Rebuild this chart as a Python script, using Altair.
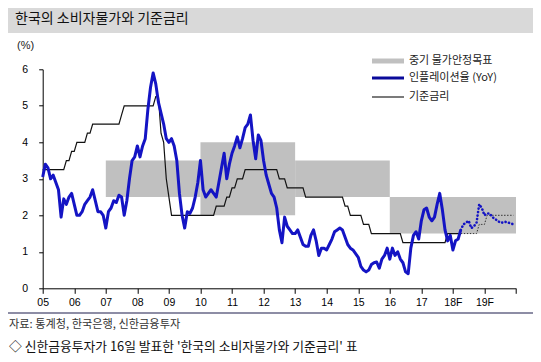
import altair as alt
import pandas as pd

# ---------------- data ----------------
tick_years = list(range(2005, 2021))
tick_labels = ["05", "06", "07", "08", "09", "10", "11", "12", "13", "14",
               "15", "16", "17", "18F", "19F", ""]

target_start = [2007, 2010, 2013, 2016]
target_end = [2010, 2013, 2016, 2020]
target_low = [2.5, 2.0, 2.5, 1.5]
target_high = [3.5, 4.0, 3.5, 2.5]

# CPI YoY (%), monthly from 2005-01 to 2018-04
cpi_actual = [
    3.05, 3.4, 3.3, 3.0, 3.1, 2.9, 2.7, 1.95, 2.45, 2.3, 2.5, 2.6,
    2.3, 2.0, 2.0, 2.1, 2.3, 2.4, 2.5, 2.7, 2.4, 2.1, 2.1, 2.0,
    1.65, 2.1, 2.2, 2.4, 2.35, 2.55, 2.5, 2.0, 2.4, 3.0, 3.5, 3.6,
    3.9, 3.6, 3.9, 4.1, 4.9, 5.5, 5.9, 5.6, 5.1, 4.8, 4.5, 4.1,
    4.0, 4.1, 3.9, 3.5, 2.6, 2.0, 1.65, 2.1, 2.05, 2.2, 2.5, 2.9,
    3.5, 2.7, 2.5, 2.6, 2.7, 2.6, 2.5, 2.9, 3.3, 3.7, 3.0, 3.4,
    3.7, 3.9, 4.15, 3.85, 4.1, 4.4, 4.5, 4.75, 4.05, 3.55, 4.2, 4.05,
    3.5, 3.1, 2.85, 2.6, 2.5, 2.2, 1.6, 1.25, 1.95, 1.7, 1.6, 1.5,
    1.5, 1.6, 1.4, 1.2, 1.15, 1.15, 1.45, 1.6, 1.3, 0.9, 1.1, 1.1,
    1.05, 1.2, 1.35, 1.55, 1.6, 1.65, 1.6, 1.4, 1.2, 1.1, 1.05, 0.95,
    0.85, 0.6, 0.5, 0.45, 0.5, 0.65, 0.7, 0.72, 0.55, 0.8, 0.9, 1.1,
    0.8, 1.1, 0.9, 1.0, 0.8, 0.7, 0.45, 0.4, 1.1, 1.45, 1.55, 1.35,
    1.85, 2.15, 2.2, 1.95, 1.85, 1.95, 2.3, 2.6, 2.15, 1.6, 1.3, 1.45,
    1.05, 1.3, 1.35, 1.6,
]
# CPI forecast, monthly from 2018-04 to 2019-12
cpi_forecast = [
    1.6, 1.75, 1.8, 1.85, 1.65, 1.7, 1.8, 2.3, 2.2,
    2.0, 2.05, 2.05, 1.95, 1.9, 1.85, 1.8, 1.8, 1.82, 1.8, 1.78, 1.75,
]
# Base rate (%), monthly from 2005-01 to 2018-04
base_actual = [
    3.25, 3.25, 3.25, 3.25, 3.25, 3.25, 3.25, 3.25, 3.25, 3.5, 3.5, 3.75,
    3.75, 4.0, 4.0, 4.0, 4.0, 4.25, 4.25, 4.5, 4.5, 4.5, 4.5, 4.5,
    4.5, 4.5, 4.5, 4.5, 4.5, 4.5, 4.75, 5.0, 5.0, 5.0, 5.0, 5.0,
    5.0, 5.0, 5.0, 5.0, 5.0, 5.0, 5.0, 5.25, 5.25, 4.25, 4.0, 3.0,
    2.5, 2.0, 2.0, 2.0, 2.0, 2.0, 2.0, 2.0, 2.0, 2.0, 2.0, 2.0,
    2.0, 2.0, 2.0, 2.0, 2.0, 2.0, 2.25, 2.25, 2.25, 2.25, 2.5, 2.5,
    2.75, 2.75, 3.0, 3.0, 3.0, 3.25, 3.25, 3.25, 3.25, 3.25, 3.25, 3.25,
    3.25, 3.25, 3.25, 3.25, 3.25, 3.25, 3.0, 3.0, 3.0, 2.75, 2.75, 2.75,
    2.75, 2.75, 2.75, 2.75, 2.5, 2.5, 2.5, 2.5, 2.5, 2.5, 2.5, 2.5,
    2.5, 2.5, 2.5, 2.5, 2.5, 2.5, 2.5, 2.25, 2.25, 2.0, 2.0, 2.0,
    2.0, 2.0, 1.75, 1.75, 1.75, 1.5, 1.5, 1.5, 1.5, 1.5, 1.5, 1.5,
    1.5, 1.5, 1.5, 1.5, 1.5, 1.25, 1.25, 1.25, 1.25, 1.25, 1.25, 1.25,
    1.25, 1.25, 1.25, 1.25, 1.25, 1.25, 1.25, 1.25, 1.25, 1.25, 1.5, 1.5,
    1.5, 1.5, 1.5, 1.5,
]
# Base rate forecast, monthly from 2018-04 to 2019-12
base_forecast = [
    1.5, 1.5, 1.5, 1.5, 1.5, 1.5, 1.5, 1.75, 1.75,
    1.75, 2.0, 2.0, 2.0, 2.0, 2.0, 2.0, 2.0, 2.0, 2.0, 2.0, 2.0,
]

title_text = "한국의 소비자물가와 기준금리"
unit_text = "(%)"
legend_labels = ["중기 물가안정목표", "인플레이션율 (YoY)", "기준금리"]
source_text = "자료: 통계청, 한국은행, 신한금융투자"
caption_text = "◇ 신한금융투자가 16일 발표한 '한국의 소비자물가와 기준금리' 표"

BLUE = "#1414c4"
GRAY = "#c0c0c0"
KFONT = "Noto Sans CJK KR"


def monthly(values, start):
    return pd.DataFrame({"t": [start + i / 12 for i in range(len(values))],
                         "v": values})


df_cpi = monthly(cpi_actual, 2005.0)
df_cpi_f = monthly(cpi_forecast, 2018.25)
df_base = monthly(base_actual, 2005.0)
df_base_f = monthly(base_forecast, 2018.25)
df_target = pd.DataFrame({"s": target_start, "e": target_end,
                          "lo": target_low, "hi": target_high})

label_expr = "[" + ",".join("'%s'" % s for s in tick_labels) + "][round(datum.value) - 2005]"

x_scale = alt.Scale(domain=[2005, 2020], nice=False, zero=False)
y_scale = alt.Scale(domain=[0, 6], nice=False)
x_axis = alt.Axis(values=tick_years, labelExpr=label_expr, title=None,
                  tickSize=5, labelPadding=4, grid=False,
                  labelOverlap=False, labelFlush=False)
y_axis = alt.Axis(values=list(range(0, 7)), title=None, tickSize=4,
                  labelPadding=11, grid=False,
                  labelOverlap=False, labelFlush=False)


def xq(field):
    return alt.X(field, scale=x_scale, axis=x_axis)


def yq(field):
    return alt.Y(field, scale=y_scale, axis=y_axis)


boxes = alt.Chart(df_target).mark_rect(color=GRAY).encode(
    x=xq("s:Q"), x2="e:Q", y=yq("lo:Q"), y2="hi:Q")

base_line = alt.Chart(df_base).mark_line(color="#111111", strokeWidth=1.2).encode(
    x=xq("t:Q"), y=yq("v:Q"))
base_f_line = alt.Chart(df_base_f).mark_line(
    color="#333333", strokeWidth=1, strokeDash=[1.5, 1.5]).encode(
    x=xq("t:Q"), y=yq("v:Q"))
cpi_f_line = alt.Chart(df_cpi_f).mark_line(
    color=BLUE, strokeWidth=2.6, strokeDash=[0.1, 3.4], strokeCap="round").encode(
    x=xq("t:Q"), y=yq("v:Q"))
cpi_line = alt.Chart(df_cpi).mark_line(
    color=BLUE, strokeWidth=3, strokeJoin="round").encode(
    x=xq("t:Q"), y=yq("v:Q"))

one = pd.DataFrame({"a": [0]})


def txt(s, x, y, size, color="#222222", font=KFONT, weight="normal"):
    return alt.Chart(one).mark_text(
        text=s, align="left", baseline="middle", font=font, fontSize=size,
        color=color, fontWeight=weight).encode(x=alt.value(x), y=alt.value(y))


def hrule(x1, x2, y, color, width):
    return alt.Chart(one).mark_rule(color=color, strokeWidth=width).encode(
        x=alt.value(x1), x2=alt.value(x2), y=alt.value(y))


title_band = alt.Chart(one).mark_rect(color="#d9d9d9").encode(
    x=alt.value(-34.7), x2=alt.value(493.3), y=alt.value(-61.3), y2=alt.value(-36.3))

layers = [
    title_band,
    txt(title_text, -27.7, -50.3, 14, color="#111111"),
    txt(unit_text, -25.7, -23.3, 11, color="#222222", font="Liberation Sans"),
    boxes, base_line, base_f_line, cpi_f_line, cpi_line,
    hrule(329.3, 361.3, -8.3, GRAY, 5),
    txt(legend_labels[0], 366.3, -8.3, 11),
    hrule(329.3, 361.3, 8.7, "#0a0a9a", 3),
    txt(legend_labels[1], 366.3, 8.7, 11),
    hrule(329.3, 361.3, 27.7, "#222222", 1.2),
    txt(legend_labels[2], 366.3, 27.7, 11),
    hrule(-34.7, 490.3, 243.7, "#1c1c4c", 1.2),
    txt(source_text, -33.7, 255.7, 11.2, color="#333333"),
    txt(caption_text, -33.7, 277.2, 12.8, color="#111111"),
]

chart = alt.layer(*layers).properties(
    width=473.3, height=219,
    padding={"left": 34.7, "top": 61.3, "right": 17, "bottom": 65.7},
    autosize=alt.AutoSizeParams(type="none"),
).configure_view(stroke=None).configure_axis(
    domainColor="#000000", tickColor="#000000", labelColor="#000000",
    labelFont="Liberation Sans", labelFontSize=10.5, domainWidth=1, tickWidth=1,
    labelOverlap=False, labelFlush=False,
)

chart.save("out.html", embed_options={"renderer": "svg", "actions": False})
